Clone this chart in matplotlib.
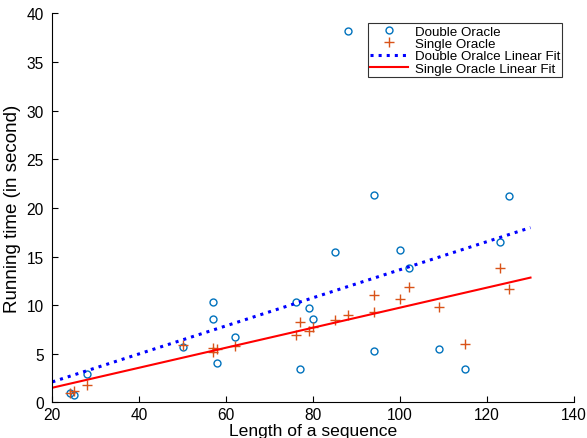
import numpy as np
import matplotlib
matplotlib.use('Agg')
import matplotlib.pyplot as plt

plt.rcParams['font.family'] = ['Liberation Sans', 'DejaVu Sans']

# sequence lengths (same for both methods)
lengths = [24, 25, 28, 50, 57, 57, 58, 62, 76, 77, 79, 80, 85, 88, 94, 94,
           100, 102, 109, 115, 123, 125]
double_time = [1.0, 0.8, 2.9, 5.7, 10.3, 8.6, 4.0, 6.7, 10.3, 3.4, 9.7, 8.6,
               15.5, 38.2, 21.3, 5.3, 15.7, 13.8, 5.5, 3.4, 16.5, 21.2]
single_lengths = [24, 25, 28, 50, 57, 57, 58, 62, 76, 77, 79, 80, 85, 88, 94, 94,
                  100, 102, 109, 115, 123, 125]
single_time = [1.0, 1.2, 1.8, 5.9, 5.2, 5.6, 5.5, 5.8, 6.9, 8.3, 7.3, 7.7,
               8.5, 9.0, 11.0, 9.3, 10.6, 11.9, 9.8, 6.0, 13.8, 11.7]

# linear fit coefficients (slope, intercept) as drawn
double_fit = (0.1443, -0.786)
single_fit = (0.1030, -0.560)
fit_range = [20, 130]

fig = plt.figure(figsize=(5.87, 4.39), dpi=100)
ax = fig.add_axes([0.0891, 0.0813, 0.8887, 0.8857])

ax.plot(lengths, double_time, 'o', mfc='none', mec='#0072BD', ms=5, mew=1.0,
        label='Double Oracle')
ax.plot(single_lengths, single_time, '+', color='#D95319', ms=7.5, mew=1.0,
        label='Single Oracle')

xf = np.array(fit_range)
ax.plot(xf, double_fit[0] * xf + double_fit[1], ':', color='#0000FF', lw=2.2,
        label='Double Oralce Linear Fit')
ax.plot(xf, single_fit[0] * xf + single_fit[1], '-', color='#FF0000', lw=1.5,
        label='Single Oracle Linear Fit')

ax.set_xlim(20, 140)
ax.set_ylim(0, 40)
ax.set_xticks(range(20, 141, 20))
ax.set_yticks(range(0, 41, 5))
ax.spines['top'].set_visible(False)
ax.spines['right'].set_visible(False)
ax.tick_params(direction='in', labelsize=11.2, length=4, width=0.8)
ax.tick_params(axis='x', pad=3.5)
ax.tick_params(axis='y', pad=6)
ax.set_xlabel('Length of a sequence', fontsize=12.6, labelpad=0.5)
ax.set_ylabel('Running time (in second)', fontsize=13.5, labelpad=4)

leg = ax.legend(loc='upper right', bbox_to_anchor=(0.978, 0.975), fontsize=9.6,
                frameon=True, fancybox=False, edgecolor='black',
                borderpad=0.15, labelspacing=0.0, handlelength=2.9,
                handletextpad=0.5, borderaxespad=0)
leg.get_frame().set_linewidth(0.8)

fig.savefig('out.png', dpi=100)
